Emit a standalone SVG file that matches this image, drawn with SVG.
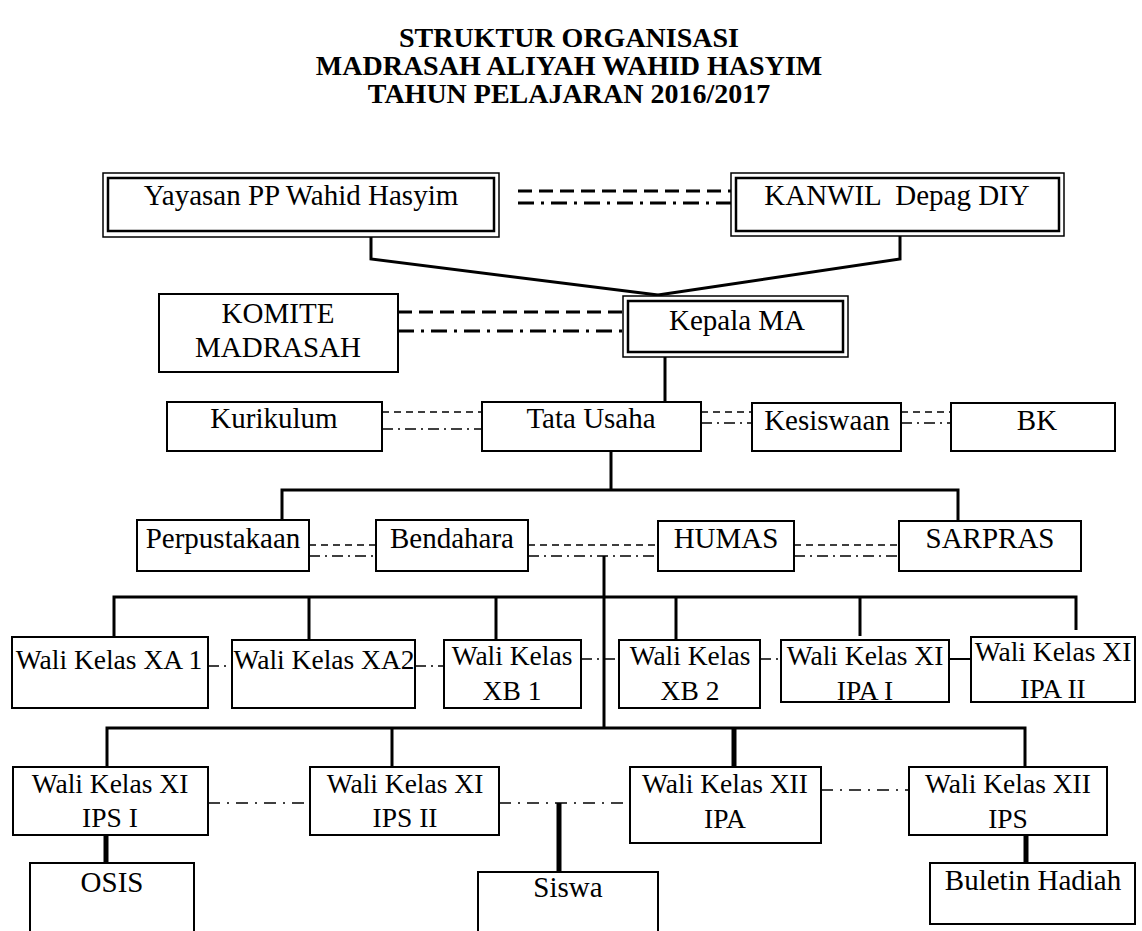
<svg xmlns="http://www.w3.org/2000/svg" width="1142" height="931" viewBox="0 0 1142 931">
<style>
.bx{fill:#fff;stroke:#000;stroke-width:2}
.o{fill:#fff;stroke:#000;stroke-width:1.5}
.i{fill:none;stroke:#000;stroke-width:2.5}
.t{font-size:29px;fill:#000;text-anchor:middle}
.w{font-size:27.5px;fill:#000;text-anchor:middle}
.h{font-size:28px;font-weight:bold;fill:#000;text-anchor:middle}
.s{fill:none;stroke:#000;stroke-width:3}
.sb{fill:none;stroke:#000;stroke-width:5}
.d1{fill:none;stroke:#000;stroke-width:3;stroke-dasharray:14 7}
.d2{fill:none;stroke:#000;stroke-width:3;stroke-dasharray:16 7 3 7}
.e1{fill:none;stroke:#000;stroke-width:1.5;stroke-dasharray:7 5}
.e2{fill:none;stroke:#000;stroke-width:1.5;stroke-dasharray:11 5 2 5}
.f{fill:none;stroke:#000;stroke-width:1.5;stroke-dasharray:12 7 2 7}
</style>
<rect width="1142" height="931" fill="#fff"/>
<g font-family="'Liberation Serif', 'DejaVu Serif', serif">
<g id="title">
<text class="h" x="569" y="47">STRUKTUR ORGANISASI</text>
<text class="h" x="569" y="75">MADRASAH ALIYAH WAHID HASYIM</text>
<text class="h" x="569" y="103">TAHUN PELAJARAN 2016/2017</text>
</g>
<g id="connectors">
<line class="d1" x1="518" y1="191" x2="731" y2="191"/>
<line class="d2" x1="518" y1="203" x2="731" y2="203"/>
<polyline class="s" points="371,237 371,259 658,295"/>
<polyline class="s" points="900,236 900,259 658,295"/>
<line class="d1" x1="398" y1="312" x2="623" y2="312"/>
<line class="d2" x1="398" y1="331" x2="623" y2="331"/>
<line class="s" x1="665" y1="357" x2="665" y2="403"/>
<line class="e1" x1="382" y1="412" x2="482" y2="412"/>
<line class="e2" x1="382" y1="429" x2="482" y2="429"/>
<line class="e1" x1="701" y1="412" x2="752" y2="412"/>
<line class="e2" x1="701" y1="423" x2="752" y2="423"/>
<line class="e1" x1="901" y1="412" x2="951" y2="412"/>
<line class="e2" x1="901" y1="423" x2="951" y2="423"/>
<line class="s" x1="611" y1="451" x2="611" y2="490"/>
<polyline class="s" points="282,521 282,490 958,490 958,521"/>
<line class="e1" x1="309" y1="545" x2="376" y2="545"/>
<line class="e2" x1="309" y1="556" x2="376" y2="556"/>
<line class="e1" x1="528" y1="545" x2="658" y2="545"/>
<line class="e2" x1="528" y1="556" x2="658" y2="556"/>
<line class="e1" x1="794" y1="545" x2="899" y2="545"/>
<line class="e2" x1="794" y1="556" x2="899" y2="556"/>
<line class="s" x1="604" y1="556" x2="604" y2="728"/>
<polyline class="s" points="114,637 114,597 1076,597 1076,630"/>
<line class="s" x1="309" y1="597" x2="309" y2="640"/>
<line class="s" x1="496" y1="597" x2="496" y2="640"/>
<line class="s" x1="676" y1="597" x2="676" y2="640"/>
<line class="s" x1="860" y1="597" x2="860" y2="636"/>
<line class="e2" x1="208" y1="666" x2="232" y2="666"/>
<line class="e2" x1="415" y1="666" x2="444" y2="666"/>
<line class="e2" x1="581" y1="659" x2="619" y2="659"/>
<line class="e2" x1="760" y1="659" x2="781" y2="659"/>
<line class="s" x1="949" y1="659" x2="971" y2="659" style="stroke-width:2"/>
<polyline class="s" points="107,767 107,728 1025,728 1025,767"/>
<line class="s" x1="392" y1="728" x2="392" y2="767"/>
<line class="sb" x1="734" y1="728" x2="734" y2="767"/>
<line class="f" x1="208" y1="803" x2="310" y2="803"/>
<line class="f" x1="499" y1="803" x2="630" y2="803"/>
<line class="f" x1="821" y1="790" x2="909" y2="790"/>
<line class="sb" x1="106" y1="835" x2="106" y2="863"/>
<line class="sb" x1="559" y1="803" x2="559" y2="872"/>
<line class="sb" x1="1026" y1="835" x2="1026" y2="863"/>
</g>
<g id="yayasan">
<rect class="o" x="103" y="173" width="396" height="64"/>
<rect class="i" x="108" y="178" width="386" height="53"/>
<text class="t" x="301" y="205">Yayasan PP Wahid Hasyim</text>
</g>
<g id="kanwil">
<rect class="o" x="731" y="173" width="333" height="63"/>
<rect class="i" x="736" y="178" width="323" height="53"/>
<text class="t" x="897" y="205" xml:space="preserve">KANWIL  Depag DIY</text>
</g>
<g id="komite">
<rect class="bx" x="159" y="294" width="239" height="78"/>
<text class="t" x="278" y="323">KOMITE</text>
<text class="t" x="278" y="357">MADRASAH</text>
</g>
<g id="kepala">
<rect class="o" x="623" y="296" width="225" height="61"/>
<rect class="i" x="628" y="301" width="215" height="51"/>
<text class="t" x="737" y="330">Kepala MA</text>
</g>
<g id="kurikulum">
<rect class="bx" x="167" y="402" width="215" height="49"/>
<text class="t" x="274" y="428">Kurikulum</text>
</g>
<g id="tatausaha">
<rect class="bx" x="482" y="402" width="219" height="49"/>
<text class="t" x="591" y="428">Tata Usaha</text>
</g>
<g id="kesiswaan">
<rect class="bx" x="752" y="403" width="149" height="48"/>
<text class="t" x="827" y="430">Kesiswaan</text>
</g>
<g id="bk">
<rect class="bx" x="951" y="403" width="164" height="48"/>
<text class="t" x="1037" y="430">BK</text>
</g>
<g id="perpustakaan">
<rect class="bx" x="137" y="520" width="172" height="51"/>
<text class="t" x="223" y="548">Perpustakaan</text>
</g>
<g id="bendahara">
<rect class="bx" x="376" y="520" width="152" height="51"/>
<text class="t" x="452" y="548">Bendahara</text>
</g>
<g id="humas">
<rect class="bx" x="658" y="521" width="136" height="50"/>
<text class="t" x="726" y="548">HUMAS</text>
</g>
<g id="sarpras">
<rect class="bx" x="899" y="521" width="182" height="50"/>
<text class="t" x="990" y="548">SARPRAS</text>
</g>
<g id="xa1">
<rect class="bx" x="12" y="637" width="196" height="71"/>
<text class="w" x="109" y="669">Wali Kelas XA 1</text>
</g>
<g id="xa2">
<rect class="bx" x="232" y="640" width="183" height="68"/>
<text class="w" x="324" y="669">Wali Kelas XA2</text>
</g>
<g id="xb1">
<rect class="bx" x="444" y="640" width="137" height="68"/>
<text class="w" x="512" y="665">Wali Kelas</text>
<text class="w" x="512" y="700">XB 1</text>
</g>
<g id="xb2">
<rect class="bx" x="619" y="640" width="141" height="68"/>
<text class="w" x="690" y="665">Wali Kelas</text>
<text class="w" x="690" y="700">XB 2</text>
</g>
<g id="xiipa1">
<rect class="bx" x="781" y="640" width="168" height="62"/>
<text class="w" x="865" y="665">Wali Kelas XI</text>
<text class="w" x="865" y="700">IPA I</text>
</g>
<g id="xiipa2">
<rect class="bx" x="971" y="637" width="164" height="65"/>
<text class="w" x="1053" y="661">Wali Kelas XI</text>
<text class="w" x="1053" y="698">IPA II</text>
</g>
<g id="xiips1">
<rect class="bx" x="13" y="767" width="195" height="68"/>
<text class="w" x="110" y="793">Wali Kelas XI</text>
<text class="w" x="110" y="827">IPS I</text>
</g>
<g id="xiips2">
<rect class="bx" x="310" y="767" width="189" height="68"/>
<text class="w" x="405" y="793">Wali Kelas XI</text>
<text class="w" x="405" y="827">IPS II</text>
</g>
<g id="xiiipa">
<rect class="bx" x="630" y="767" width="191" height="76"/>
<text class="w" x="725" y="793">Wali Kelas XII</text>
<text class="w" x="725" y="828">IPA</text>
</g>
<g id="xiiips">
<rect class="bx" x="909" y="767" width="198" height="68"/>
<text class="w" x="1008" y="793">Wali Kelas XII</text>
<text class="w" x="1008" y="828">IPS</text>
</g>
<g id="osis">
<rect class="bx" x="30" y="863" width="164" height="80"/>
<text class="t" x="112" y="892">OSIS</text>
</g>
<g id="siswa">
<rect class="bx" x="478" y="872" width="180" height="70"/>
<text class="t" x="568" y="897">Siswa</text>
</g>
<g id="buletin">
<rect class="bx" x="930" y="863" width="205" height="61"/>
<text class="t" x="1033" y="890">Buletin Hadiah</text>
</g>
</g>
</svg>
